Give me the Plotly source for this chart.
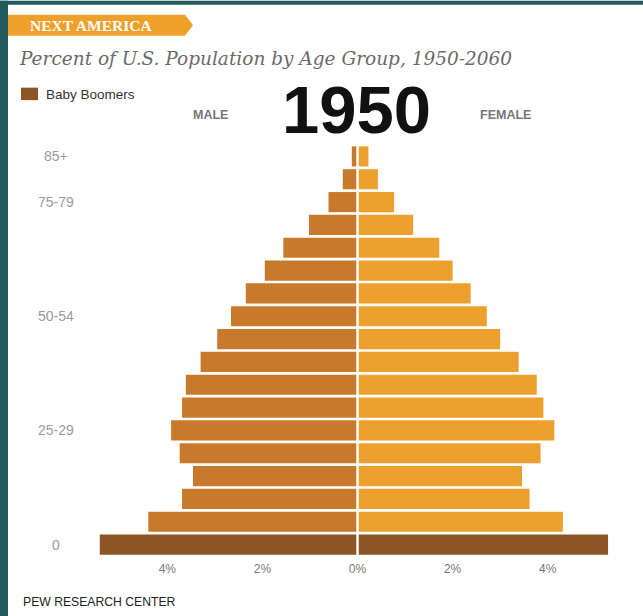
import plotly.graph_objects as go

# ---------------- data ----------------
age_groups = ["0-4", "5-9", "10-14", "15-19", "20-24", "25-29", "30-34", "35-39",
              "40-44", "45-49", "50-54", "55-59", "60-64", "65-69", "70-74",
              "75-79", "80-84", "85+"]
male_pct = [5.42, 4.40, 3.69, 3.46, 3.74, 3.92, 3.69, 3.61,
            3.30, 2.95, 2.66, 2.35, 1.95, 1.56, 1.02, 0.61, 0.31, 0.12]
female_pct = [5.27, 4.32, 3.62, 3.46, 3.85, 4.14, 3.91, 3.77,
              3.39, 3.00, 2.72, 2.38, 2.00, 1.72, 1.17, 0.77, 0.43, 0.23]
boomer_groups = ["0-4"]
y_label_groups = ["85+", "75-79", "50-54", "25-29", "0-4"]
y_label_texts = ["85+", "75-79", "50-54", "25-29", "0"]
x_tick_vals = [-4, -2, 0, 2, 4]
x_tick_text = ["4%", "2%", "0%", "2%", "4%"]
year = "1950"

# ---------------- style ----------------
MALE_C = "#c87a2c"
FEMALE_C = "#eea02e"
BOOMER_C = "#8d5524"
TEAL = "#235a5f"
W, H = 643, 616
PL, PR, PT, PB = 96, 619, 144.5, 556.5   # plot area in pixels


def px(x):
    return (x - PL) / (PR - PL)


def py(y):
    return (PB - y) / (PB - PT)


male_colors = [BOOMER_C if a in boomer_groups else MALE_C for a in age_groups]
female_colors = [BOOMER_C if a in boomer_groups else FEMALE_C for a in age_groups]

fig = go.Figure()
fig.add_trace(go.Bar(y=age_groups, x=[-v for v in male_pct], orientation="h",
                     marker=dict(color=male_colors, line=dict(width=0)),
                     name="Male", hoverinfo="skip"))
fig.add_trace(go.Bar(y=age_groups, x=female_pct, orientation="h",
                     marker=dict(color=female_colors, line=dict(width=0)),
                     name="Female", hoverinfo="skip"))

shapes = [
    # center white divider
    dict(type="line", xref="x", yref="paper", x0=0, x1=0, y0=0, y1=1,
         line=dict(color="white", width=2.5), layer="above"),
    # teal frame
    dict(type="rect", xref="paper", yref="paper", x0=px(0), x1=px(8), y0=py(W), y1=py(0),
         fillcolor=TEAL, line=dict(width=0)),
    dict(type="rect", xref="paper", yref="paper", x0=px(0), x1=px(W), y0=py(4), y1=py(0),
         fillcolor=TEAL, line=dict(width=0)),
    # banner
    dict(type="path", xref="paper", yref="paper",
         path=f"M {px(8)},{py(14)} L {px(185)},{py(14)} L {px(193)},{py(24.5)} "
              f"L {px(185)},{py(35)} L {px(8)},{py(35)} Z",
         fillcolor="#eea02a", line=dict(width=0)),
    # legend swatch
    dict(type="rect", xref="paper", yref="paper", x0=px(21), x1=px(38), y0=py(99.5), y1=py(87),
         fillcolor=BOOMER_C, line=dict(width=0)),
]

annotations = [
    dict(text="NEXT AMERICA", xref="paper", yref="paper", x=px(28), y=py(25),
         xanchor="left", yanchor="middle", showarrow=False,
         font=dict(family="Liberation Serif", size=15.5, color="white", weight="bold")),
    dict(text="Percent of U.S. Population by Age Group, 1950-2060", xref="paper", yref="paper",
         x=px(17), y=py(58), xanchor="left", yanchor="middle", showarrow=False,
         font=dict(family="DejaVu Serif", size=18.5, color="#6a6a6a", style="italic")),
    dict(text="Baby Boomers", xref="paper", yref="paper", x=px(44), y=py(93.5),
         xanchor="left", yanchor="middle", showarrow=False,
         font=dict(family="Liberation Sans", size=13.5, color="#333333")),
    dict(text="MALE", xref="paper", yref="paper", x=px(210), y=py(114),
         xanchor="center", yanchor="middle", showarrow=False,
         font=dict(family="Liberation Sans Narrow, Liberation Sans", size=12.5,
                   color="#777777", weight="bold")),
    dict(text="FEMALE", xref="paper", yref="paper", x=px(505), y=py(114),
         xanchor="center", yanchor="middle", showarrow=False,
         font=dict(family="Liberation Sans Narrow, Liberation Sans", size=12.5,
                   color="#777777", weight="bold")),
    dict(text=year, xref="paper", yref="paper", x=px(356), y=py(109),
         xanchor="center", yanchor="middle", showarrow=False,
         font=dict(family="Liberation Sans", size=67, color="#111111", weight="bold")),
    dict(text="PEW RESEARCH CENTER", xref="paper", yref="paper", x=px(21), y=py(603),
         xanchor="left", yanchor="middle", showarrow=False,
         font=dict(family="Liberation Sans", size=12.2, color="#222222")),
]
for g, t in zip(y_label_groups, y_label_texts):
    annotations.append(dict(text=t, xref="paper", yref="y", x=px(56), y=g,
                            xanchor="center", yanchor="middle", showarrow=False,
                            font=dict(family="Liberation Sans", size=14, color="#9a9a9a")))

fig.update_layout(
    width=W, height=H,
    margin=dict(l=PL, r=W - PR, t=PT, b=H - PB, pad=0),
    paper_bgcolor="white", plot_bgcolor="white",
    barmode="overlay", bargap=0.12,
    showlegend=False,
    shapes=shapes, annotations=annotations,
    xaxis=dict(range=[-5.5, 5.5], tickvals=x_tick_vals, ticktext=x_tick_text,
               showgrid=False, zeroline=False, showline=False, ticks="",
               ticklabelstandoff=4,
               tickfont=dict(family="Liberation Sans", size=12, color="#777777"),
               fixedrange=True),
    yaxis=dict(type="category", categoryorder="array", categoryarray=age_groups,
               showticklabels=False, showgrid=False, zeroline=False, showline=False,
               ticks="", range=[-0.5, len(age_groups) - 0.5], fixedrange=True),
)

fig.write_html("out.html", config={"displayModeBar": False})
